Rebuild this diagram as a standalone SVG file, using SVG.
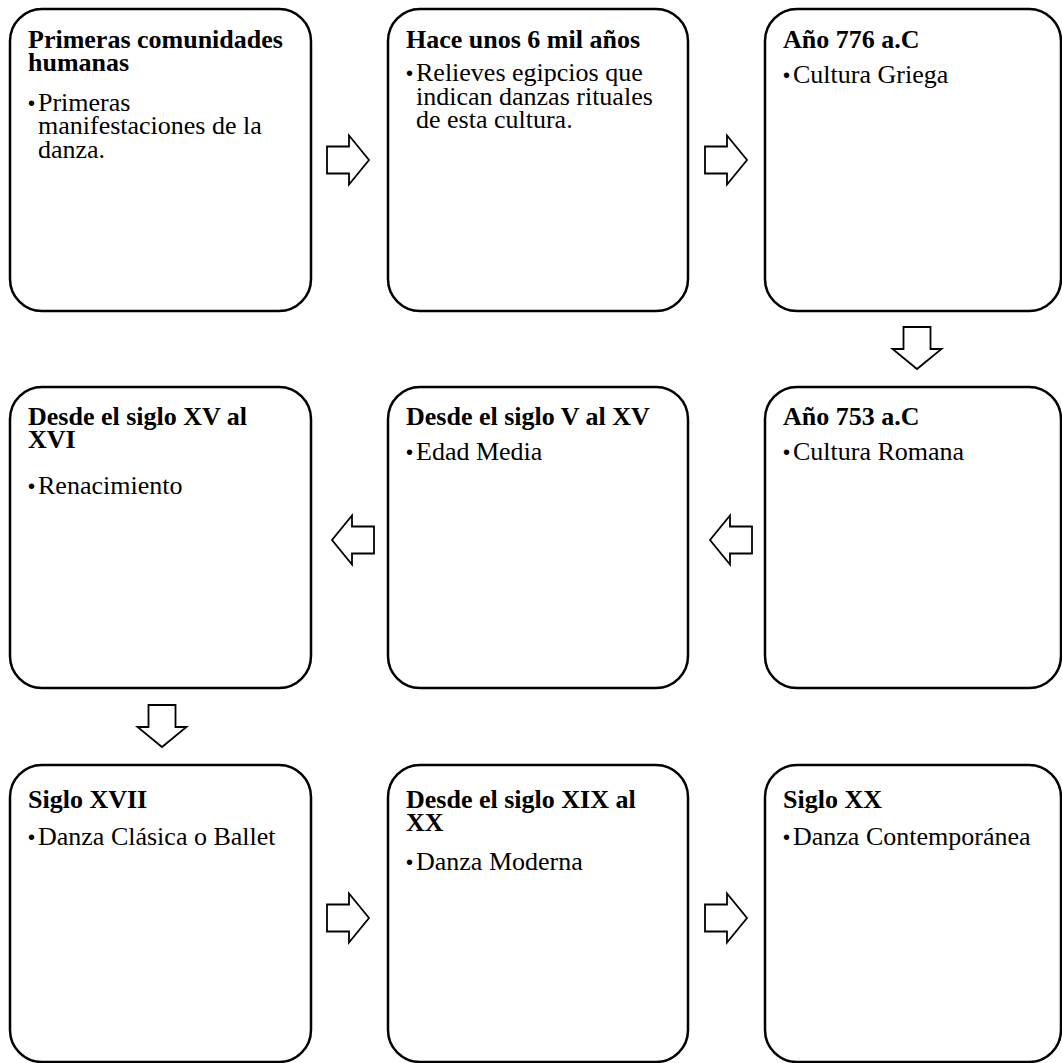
<svg xmlns="http://www.w3.org/2000/svg" width="1062" height="1063" viewBox="0 0 1062 1063">
<style>
.box{fill:#fff;stroke:#000;stroke-width:2.5}
.arr{fill:#fff;stroke:#000;stroke-width:1.8;stroke-linejoin:miter}
.h{font-family:"Liberation Serif","Times New Roman",serif;font-size:26px;font-weight:bold;fill:#000}
.t{font-family:"Liberation Serif","Times New Roman",serif;font-size:26px;fill:#000}
.b{font-family:"Liberation Sans",Arial,sans-serif;font-size:20px;fill:#000}
</style>
<defs>
<path id="ar" d="M-21,-13.5 H1 V-24.5 L21,0 L1,24.5 V13.5 H-21 Z"/>
</defs>
<rect width="1062" height="1063" fill="#fff"/>

<g id="connectors">
<use href="#ar" class="arr" transform="translate(348,160)"/>
<use href="#ar" class="arr" transform="translate(726,160)"/>
<use href="#ar" class="arr" transform="translate(917,348) rotate(90)"/>
<use href="#ar" class="arr" transform="translate(731,540) rotate(180)"/>
<use href="#ar" class="arr" transform="translate(353,540) rotate(180)"/>
<use href="#ar" class="arr" transform="translate(162,726) rotate(90)"/>
<use href="#ar" class="arr" transform="translate(348,918)"/>
<use href="#ar" class="arr" transform="translate(726,918)"/>
</g>

<g id="n1">
<rect class="box" x="10" y="9" width="301" height="302" rx="32"/>
<text class="h" x="28" y="48">Primeras comunidades</text>
<text class="h" x="28" y="71">humanas</text>
<text class="b" x="28" y="110">•</text>
<text class="t" x="38" y="111">Primeras</text>
<text class="t" x="38" y="134">manifestaciones de la</text>
<text class="t" x="38" y="158">danza.</text>
</g>

<g id="n2">
<rect class="box" x="388" y="9" width="300" height="302" rx="32"/>
<text class="h" x="406" y="48">Hace unos 6 mil años</text>
<text class="b" x="406" y="80">•</text>
<text class="t" x="416" y="81">Relieves egipcios que</text>
<text class="t" x="416" y="105">indican danzas rituales</text>
<text class="t" x="416" y="128">de esta cultura.</text>
</g>

<g id="n3">
<rect class="box" x="765" y="9" width="296" height="302" rx="32"/>
<text class="h" x="783" y="48">Año 776 a.C</text>
<text class="b" x="783" y="82">•</text>
<text class="t" x="793" y="83">Cultura Griega</text>
</g>

<g id="n4">
<rect class="box" x="765" y="387" width="296" height="301" rx="32"/>
<text class="h" x="783" y="425">Año 753 a.C</text>
<text class="b" x="783" y="459">•</text>
<text class="t" x="793" y="460">Cultura Romana</text>
</g>

<g id="n5">
<rect class="box" x="388" y="387" width="300" height="301" rx="32"/>
<text class="h" x="406" y="425">Desde el siglo V al XV</text>
<text class="b" x="406" y="459">•</text>
<text class="t" x="416" y="460">Edad Media</text>
</g>

<g id="n6">
<rect class="box" x="10" y="387" width="301" height="301" rx="32"/>
<text class="h" x="28" y="425">Desde el siglo XV al</text>
<text class="h" x="28" y="448">XVI</text>
<text class="b" x="28" y="493">•</text>
<text class="t" x="38" y="494">Renacimiento</text>
</g>

<g id="n7">
<rect class="box" x="10" y="765" width="301" height="297" rx="32"/>
<text class="h" x="28" y="808">Siglo XVII</text>
<text class="b" x="28" y="844">•</text>
<text class="t" x="38" y="845">Danza Clásica o Ballet</text>
</g>

<g id="n8">
<rect class="box" x="388" y="765" width="300" height="297" rx="32"/>
<text class="h" x="406" y="808">Desde el siglo XIX al</text>
<text class="h" x="406" y="831">XX</text>
<text class="b" x="406" y="869">•</text>
<text class="t" x="416" y="870">Danza Moderna</text>
</g>

<g id="n9">
<rect class="box" x="765" y="765" width="296" height="297" rx="32"/>
<text class="h" x="783" y="808">Siglo XX</text>
<text class="b" x="783" y="844">•</text>
<text class="t" x="793" y="845">Danza Contemporánea</text>
</g>
</svg>
